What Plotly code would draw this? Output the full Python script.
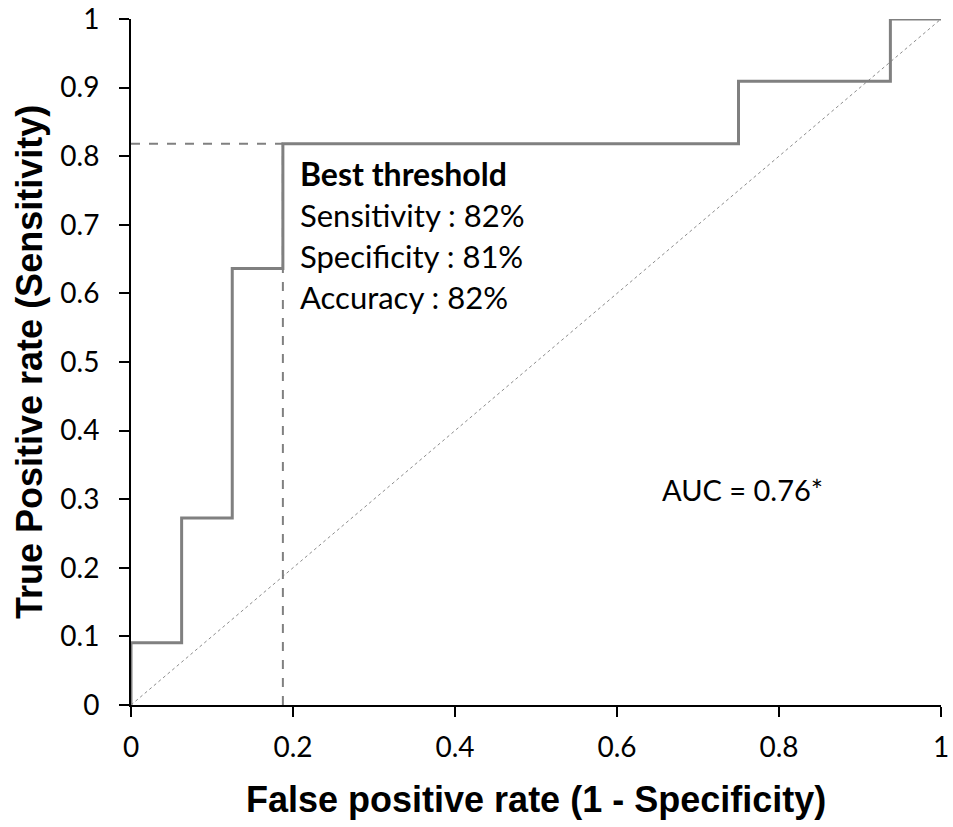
import plotly.graph_objects as go

# ROC curve data
fpr = [0, 0, 0.0625, 0.0625, 0.125, 0.125, 0.1875, 0.1875, 0.75, 0.75, 0.9375, 0.9375, 1.0]
tpr = [0, 0.0909, 0.0909, 0.2727, 0.2727, 0.6364, 0.6364, 0.8182, 0.8182, 0.9091, 0.9091, 1.0, 1.0]

best_fpr = 0.1875
best_tpr = 0.8182

diag = [0, 1]

x_tickvals = [0, 0.2, 0.4, 0.6, 0.8, 1.0]
x_ticktext = ["0", "0.2", "0.4", "0.6", "0.8", "1"]
y_tickvals = [0, 0.1, 0.2, 0.3, 0.4, 0.5, 0.6, 0.7, 0.8, 0.9, 1.0]
y_ticktext = ["0", "0.1", "0.2", "0.3", "0.4", "0.5", "0.6", "0.7", "0.8", "0.9", "1"]

info_title = "Best threshold"
info_lines = ["Sensitivity : 82%", "Specificity : 81%", "Accuracy : 82%"]
auc_text = "AUC = 0.76*"
x_title = "False positive rate (1 - Specificity)"
y_title = "True Positive rate (Sensitivity)"

GRAY = "#808080"
FONT = "Lato, 'Open Sans', sans-serif"
BFONT = "Liberation Sans, Arial, sans-serif"

fig = go.Figure()
fig.add_trace(go.Scatter(x=diag, y=diag, mode="lines",
                         line=dict(color="#8c8c8c", width=1, dash="dot"),
                         showlegend=False, hoverinfo="skip"))
fig.add_trace(go.Scatter(x=[0, best_fpr], y=[best_tpr, best_tpr], mode="lines",
                         line=dict(color=GRAY, width=2, dash="dash"),
                         showlegend=False, hoverinfo="skip"))
fig.add_trace(go.Scatter(x=[best_fpr, best_fpr], y=[0, best_tpr], mode="lines",
                         line=dict(color=GRAY, width=2, dash="dash"),
                         showlegend=False, hoverinfo="skip"))
fig.add_trace(go.Scatter(x=fpr, y=tpr, mode="lines",
                         line=dict(color=GRAY, width=3),
                         showlegend=False))

ann_x = 0.206
ys = [0.7755, 0.7143, 0.6545, 0.5948]
texts = ["<b>" + info_title + "</b>"] + info_lines
sizes = [32, 31, 31, 31]
for t, yv, s in zip(texts, ys, sizes):
    fig.add_annotation(x=ann_x, y=yv, xref="x", yref="y", text=t, showarrow=False,
                       xanchor="left", yanchor="middle",
                       font=dict(family=FONT, size=s, color="black"))
fig.add_annotation(x=0.653, y=0.3148, xref="x", yref="y", text=auc_text, showarrow=False,
                   xanchor="left", yanchor="middle",
                   font=dict(family=FONT, size=29, color="black"))

# axis titles
fig.add_annotation(x=0.5, y=0, xref="paper", yref="paper", yshift=-94,
                   text="<b>" + x_title + "</b>", showarrow=False,
                   xanchor="center", yanchor="middle",
                   font=dict(family=BFONT, size=36, color="black"))
fig.add_annotation(x=0, y=0.5, xref="paper", yref="paper", xshift=-102,
                   text="<b>" + y_title + "</b>", showarrow=False, textangle=-90,
                   xanchor="center", yanchor="middle",
                   font=dict(family=BFONT, size=36, color="black"))

axis_common = dict(showline=True, linecolor="black", linewidth=2, ticks="outside",
                   ticklen=10, tickwidth=2, tickcolor="black", showgrid=False,
                   zeroline=False, range=[0, 1], automargin=False,
                   tickfont=dict(family=FONT, size=28, color="black"))

fig.update_xaxes(tickvals=x_tickvals, ticktext=x_ticktext, ticklabelstandoff=6, **axis_common)
fig.update_yaxes(tickvals=y_tickvals, ticktext=y_ticktext, ticklabelstandoff=14, **axis_common)

fig.update_layout(width=953, height=827, plot_bgcolor="white", paper_bgcolor="white",
                  margin=dict(l=131, r=12, t=19, b=122))

fig.write_html("out.html", config={"displayModeBar": False},
               post_script="document.body.style.margin='0';document.body.style.overflow='hidden';")
